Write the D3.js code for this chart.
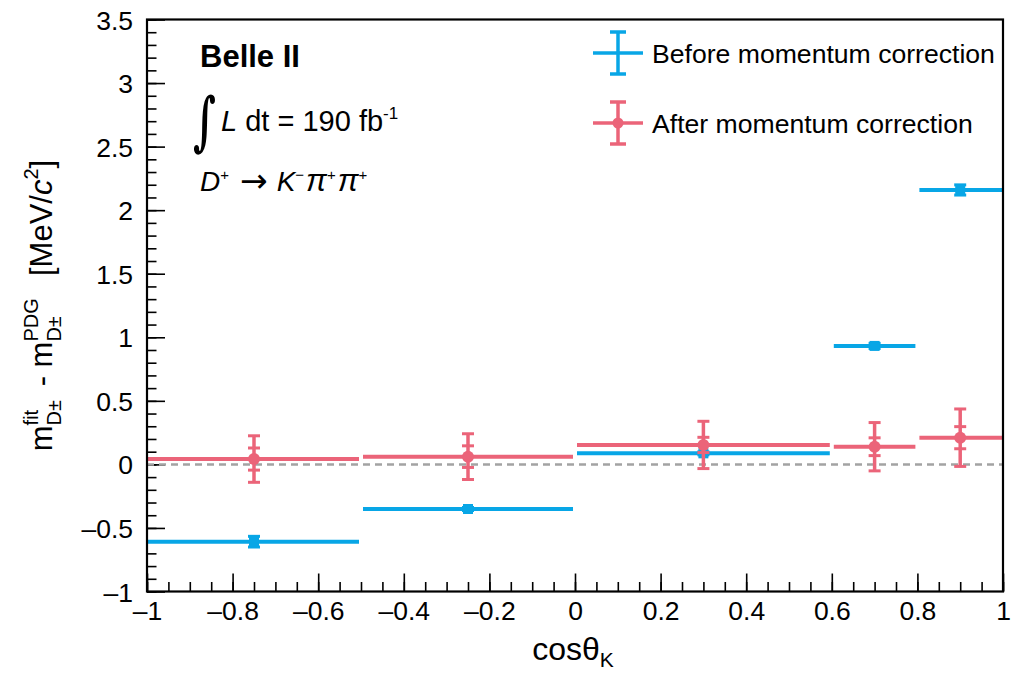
<!DOCTYPE html>
<html>
<head>
<meta charset="utf-8">
<script src="https://cdn.jsdelivr.net/npm/d3@7"></script>
<style>
  html, body { margin: 0; padding: 0; background: #fff; }
  svg { display: block; font-family: "Liberation Sans", Arial, Helvetica, sans-serif; }
</style>
</head>
<body>
<svg id="chart" width="1017" height="676"></svg>
<script>
// ── Data ──────────────────────────────────────────────────────────────────────
const binLo     = [-1, -0.5, 0, 0.6, 0.8];
const binHi     = [-0.5, 0, 0.6, 0.8, 1];
const binCenter = [-0.75, -0.25, 0.3, 0.7, 0.9];

const beforeVal = [-0.608, -0.351, 0.087, 0.932, 2.159];
const beforeErr = [0.042, 0.012, 0.012, 0.02, 0.04];

const afterVal  = [0.042, 0.061, 0.153, 0.139, 0.21];
const afterStat = [0.087, 0.085, 0.06, 0.07, 0.087];
const afterTot  = [0.183, 0.18, 0.186, 0.19, 0.226];

const xMajor = [-1, -0.8, -0.6, -0.4, -0.2, 0, 0.2, 0.4, 0.6, 0.8, 1];
const yMajor = [-1, -0.5, 0, 0.5, 1, 1.5, 2, 2.5, 3, 3.5];

// ── Config ────────────────────────────────────────────────────────────────────
const BLUE = "#08a6e6";
const RED  = "#eb6479";
const LEFT = 147, RIGHT = 1003, TOP = 19.5, BOTTOM = 591.5;
const GAP  = 2;

const svg = d3.select("#chart");

const x = d3.scaleLinear().domain([-1, 1]).range([LEFT, RIGHT]);
const y = d3.scaleLinear().domain([-1, 3.5]).range([BOTTOM, TOP]);

const fmt = d => d < 0 ? "\u2013" + Math.abs(d) : String(d);

// ── Axes (ticks inside the frame, ROOT style) ─────────────────────────────────
const xMinor = d3.range(-1, 1.0001, 0.05).map(v => +v.toFixed(2));
const yMinor = d3.range(-1, 3.5001, 0.1).map(v => +v.toFixed(2));

const gx = svg.append("g").attr("transform", `translate(0,${BOTTOM})`)
  .call(d3.axisBottom(x).tickValues(xMajor).tickSize(-18).tickPadding(10).tickFormat(fmt));
const gxm = svg.append("g").attr("transform", `translate(0,${BOTTOM})`)
  .call(d3.axisBottom(x).tickValues(xMinor).tickSize(-9.5).tickFormat(""));
const gy = svg.append("g").attr("transform", `translate(${LEFT},0)`)
  .call(d3.axisLeft(y).tickValues(yMajor).tickSize(-18).tickPadding(14).tickFormat(fmt));
const gym = svg.append("g").attr("transform", `translate(${LEFT},0)`)
  .call(d3.axisLeft(y).tickValues(yMinor).tickSize(-9.5).tickFormat(""));

[gx, gxm, gy, gym].forEach(g => {
  g.select(".domain").remove();
  g.selectAll(".tick line").attr("stroke", "#000").attr("stroke-width", 1.6);
  g.selectAll(".tick text").attr("fill", "#000").attr("font-size", "26.5px")
    .attr("font-family", "Liberation Sans, Arial, sans-serif");
});
gx.selectAll(".tick text").attr("dy", "0.71em");
gy.selectAll(".tick text").attr("dy", "0.36em");

// zero reference line
svg.append("line")
  .attr("x1", x(-1)).attr("x2", x(1)).attr("y1", y(0)).attr("y2", y(0))
  .attr("stroke", "#a3a3a3").attr("stroke-width", 2.5).attr("stroke-dasharray", "7,5");

// ── Before correction (blue) ──────────────────────────────────────────────────
const gb = svg.append("g");
binLo.forEach((lo, i) => {
  const cx = x(binCenter[i]), cy = y(beforeVal[i]);
  gb.append("line")
    .attr("x1", x(lo) + (i === 0 ? 0 : GAP)).attr("x2", x(binHi[i]) - (i === 4 ? 0 : GAP))
    .attr("y1", cy).attr("y2", cy)
    .attr("stroke", BLUE).attr("stroke-width", 4);
  const y1 = y(beforeVal[i] + beforeErr[i]), y2 = y(beforeVal[i] - beforeErr[i]);
  gb.append("line").attr("x1", cx).attr("x2", cx).attr("y1", y1).attr("y2", y2)
    .attr("stroke", BLUE).attr("stroke-width", 3.5);
  [y1, y2].forEach(yy => gb.append("line")
    .attr("x1", cx - 6).attr("x2", cx + 6).attr("y1", yy).attr("y2", yy)
    .attr("stroke", BLUE).attr("stroke-width", 3));
  gb.append("rect").attr("x", cx - 5).attr("y", cy - 5).attr("width", 10).attr("height", 10)
    .attr("fill", BLUE);
});

// ── After correction (red) ────────────────────────────────────────────────────
const gr = svg.append("g");
binLo.forEach((lo, i) => {
  const cx = x(binCenter[i]), cy = y(afterVal[i]);
  gr.append("line")
    .attr("x1", x(lo) + (i === 0 ? 0 : GAP)).attr("x2", x(binHi[i]) - (i === 4 ? 0 : GAP))
    .attr("y1", cy).attr("y2", cy)
    .attr("stroke", RED).attr("stroke-width", 4);
  const t1 = y(afterVal[i] + afterTot[i]), t2 = y(afterVal[i] - afterTot[i]);
  const s1 = y(afterVal[i] + afterStat[i]), s2 = y(afterVal[i] - afterStat[i]);
  gr.append("line").attr("x1", cx).attr("x2", cx).attr("y1", t1).attr("y2", t2)
    .attr("stroke", RED).attr("stroke-width", 3.5);
  [t1, t2, s1, s2].forEach(yy => gr.append("line")
    .attr("x1", cx - 6).attr("x2", cx + 6).attr("y1", yy).attr("y2", yy)
    .attr("stroke", RED).attr("stroke-width", 3));
  gr.append("circle").attr("cx", cx).attr("cy", cy).attr("r", 6).attr("fill", RED);
});

// frame
svg.append("rect")
  .attr("x", LEFT).attr("y", TOP).attr("width", RIGHT - LEFT).attr("height", BOTTOM - TOP)
  .attr("fill", "none").attr("stroke", "#000").attr("stroke-width", 2.2);

// ── Rich text helper: pieces laid out left to right ──────────────────────────
function rich(g, pieces, baseSize) {
  let cx = 0;
  pieces.forEach(p => {
    if (p.stack) {
      let w = 0;
      p.stack.forEach(s => {
        const t = g.append("text").attr("x", cx).attr("y", s.dy || 0)
          .attr("font-size", (s.size || baseSize) + "px")
          .attr("font-style", s.italic ? "italic" : null)
          .text(s.t);
        w = Math.max(w, t.node().getComputedTextLength());
      });
      cx += w + (p.after || 0);
    } else {
      const t = g.append("text").attr("x", cx + (p.dx || 0)).attr("y", p.dy || 0)
        .attr("font-size", (p.size || baseSize) + "px")
        .attr("font-style", p.italic ? "italic" : null)
        .attr("font-weight", p.bold ? "bold" : null)
        .attr("font-family", p.family || null)
        .attr("xml:space", "preserve")
        .style("white-space", "pre")
        .text(p.t);
      cx += (p.dx || 0) + t.node().getComputedTextLength() + (p.after || 0);
    }
  });
  return cx;
}

// ── Annotations ──────────────────────────────────────────────────────────────
svg.append("text").attr("x", 200).attr("y", 67)
  .attr("font-size", "31px").attr("font-weight", "bold").text("Belle II");

// integral sign, stretched vertically like the TLatex #int
svg.append("text").attr("transform", "translate(193,143) scale(0.9,1.45)")
  .attr("font-size", "44px").attr("font-weight", "bold")
  .attr("font-family", "DejaVu Serif, serif").text("\u222B");
const gi2 = svg.append("g").attr("transform", "translate(221,131)");
rich(gi2, [
  { t: "L", italic: true },
  { t: " dt = 190 fb" },
  { t: "-1", size: 17, dy: -12 }
], 29);

const gd = svg.append("g").attr("transform", "translate(200,191)");
rich(gd, [
  { t: "D", italic: true },
  { t: "+", size: 15, dy: -11, after: 11 },
  { t: "\u2192", size: 33, dy: 1, after: 9, family: "DejaVu Sans, sans-serif" },
  { t: "K", italic: true },
  { t: "\u2212", size: 15, dy: -11, after: 2 },
  { t: "\u03C0", italic: true, size: 31 },
  { t: "+", size: 15, dy: -11, after: 2 },
  { t: "\u03C0", italic: true, size: 31 },
  { t: "+", size: 15, dy: -11 }
], 28);

// ── Legend ───────────────────────────────────────────────────────────────────
const legend = [
  { label: "Before momentum correction", color: BLUE, yc: 53, marker: false },
  { label: "After momentum correction",  color: RED,  yc: 123, marker: true }
];
legend.forEach(d => {
  const lg = svg.append("g");
  const cx = 618;
  lg.append("line").attr("x1", 593).attr("x2", 643).attr("y1", d.yc).attr("y2", d.yc)
    .attr("stroke", d.color).attr("stroke-width", 3.5);
  lg.append("line").attr("x1", cx).attr("x2", cx).attr("y1", d.yc - 21).attr("y2", d.yc + 21)
    .attr("stroke", d.color).attr("stroke-width", 3.5);
  [d.yc - 21, d.yc + 21].forEach(yy => lg.append("line")
    .attr("x1", cx - 8).attr("x2", cx + 8).attr("y1", yy).attr("y2", yy)
    .attr("stroke", d.color).attr("stroke-width", 3.5));
  if (d.marker) lg.append("circle").attr("cx", cx).attr("cy", d.yc).attr("r", 5.5).attr("fill", d.color);
  lg.append("text").attr("x", 652).attr("y", d.yc + 9.5).attr("font-size", "26.6px").text(d.label);
});

// ── Axis titles ──────────────────────────────────────────────────────────────
const gxt = svg.append("g");
const wx = rich(gxt, [
  { t: "cos\u03B8" },
  { t: "K", size: 21, dy: 7 }
], 32);
gxt.attr("transform", `translate(${573 - wx / 2},660)`);

const gyt = svg.append("g");
const gyInner = gyt.append("g");
const wy = rich(gyInner, [
  { t: "m" },
  { stack: [ { t: "fit", size: 20, dy: -14 }, { t: "D\u00B1", size: 20, dy: 9 } ], after: 5 },
  { t: " - m" },
  { stack: [ { t: "PDG", size: 20, dy: -14 }, { t: "D\u00B1", size: 20, dy: 9 } ], after: 5 },
  { t: "  [MeV/" },
  { t: "c", italic: true },
  { t: "2", size: 20, dy: -14 },
  { t: "]" }
], 31);
gyInner.attr("transform", `translate(${-wy / 2},0)`);
gyt.attr("transform", `translate(52,${(TOP + BOTTOM) / 2}) rotate(-90)`);
</script>
</body>
</html>
